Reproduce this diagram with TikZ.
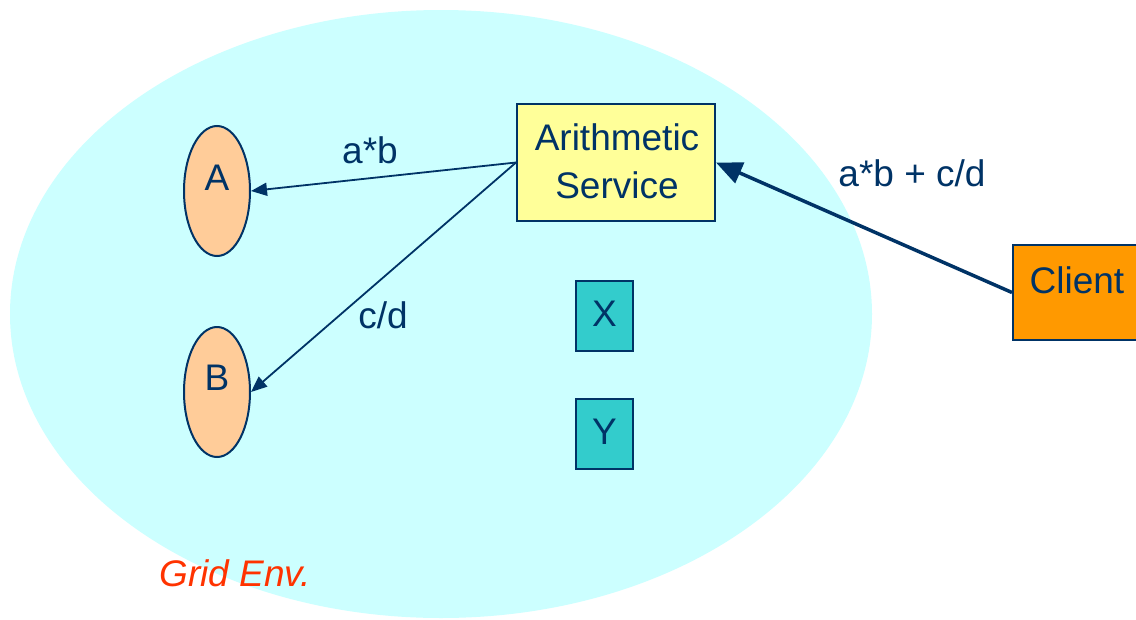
\documentclass[tikz,border=0pt]{standalone}
\usepackage{fontspec}
\setmainfont{Liberation Sans}
\usetikzlibrary{shapes.geometric,arrows.meta}
\definecolor{envcyan}{HTML}{CCFFFF}
\definecolor{navy}{HTML}{003366}
\definecolor{svcyellow}{HTML}{FFFF99}
\definecolor{peach}{HTML}{FFCC99}
\definecolor{teal}{HTML}{33CCCC}
\definecolor{clientorange}{HTML}{FF9900}
\definecolor{envred}{HTML}{FF3300}
\newcommand{\bigfont}{\fontsize{37}{44}\selectfont}
\begin{document}
\begin{tikzpicture}[x=1pt,y=-1pt,
  lbl/.style={text=navy,font=\bigfont,inner sep=0pt},
  boxnode/.style={draw=navy,line width=2pt,text=navy,font=\bigfont,inner sep=0pt,align=center},
  oval/.style={ellipse,draw=navy,line width=2pt,fill=peach,inner sep=0pt,minimum width=66,minimum height=130},
  conn/.style={draw=navy,line width=1.8pt,-{Triangle[length=16pt,width=13pt]}},
  bigconn/.style={draw=navy,line width=3.5pt,-{Triangle[length=26pt,width=22pt]}}]
\useasboundingbox (0,0) rectangle (1136,619);
\fill[white] (0,0) rectangle (1136,619);
\begin{scope}
\clip (0,0) rectangle (1136,619);
\fill[envcyan] (441,314) ellipse [x radius=431, y radius=304];
\node[boxnode,fill=clientorange,minimum width=127,minimum height=95] (client) at (1076.5,292.5) {};
\end{scope}
\node[lbl] (clientlbl) at (1077,280) {Client};
\node[boxnode,fill=svcyellow,minimum width=198,minimum height=117] (arith) at (616,162.5) {};
\node[lbl,align=center] (arithlbl) at (617,161) {Arithmetic\\[4pt]Service};
\node[oval] (A) at (217,191) {};
\node[lbl] (Albl) at (217,178) {A};
\node[oval] (B) at (217,392) {};
\node[lbl] (Blbl) at (217,378) {B};
\node[boxnode,fill=teal,minimum width=57,minimum height=70] (X) at (604.5,316) {};
\node[lbl] (Xlbl) at (604.5,314) {X};
\node[boxnode,fill=teal,minimum width=57,minimum height=70] (Y) at (604.5,434) {};
\node[lbl] (Ylbl) at (604.5,432) {Y};
\draw[conn] (arith.west) -- (A.east);
\draw[conn] (arith.west) -- (B.east);
\draw[bigconn] (client.west) -- (arith.east);
\node[lbl] (lab1) at (370,150) {a*b};
\node[lbl] (lab2) at (383,315) {c/d};
\node[lbl] (lab3) at (912,173) {a*b + c/d};
\node[lbl,text=envred,font=\bigfont\itshape] (env) at (235,573) {Grid Env.};
\end{tikzpicture}
\end{document}
